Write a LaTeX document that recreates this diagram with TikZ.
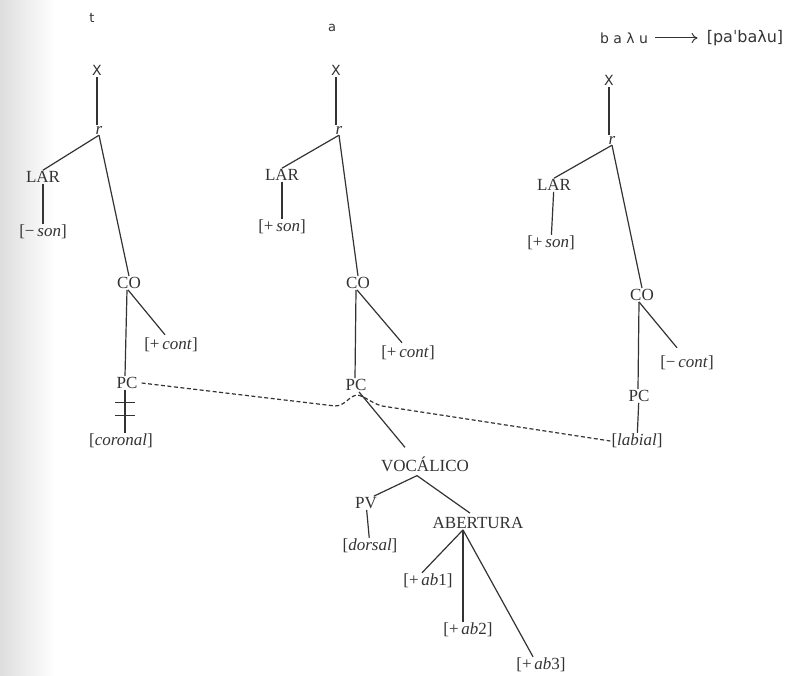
\documentclass[tikz,border=0pt]{standalone}
\usepackage{fontspec}
\setmainfont{Liberation Serif}
\newfontfamily\dvs{DejaVu Sans}
\usetikzlibrary{arrows.meta,calc}
\definecolor{ink}{HTML}{333333}
\begin{document}
\begin{tikzpicture}[x=1pt,y=-1pt,
  lbl/.style={inner sep=1pt, text=ink, font=\fontsize{17}{17}\selectfont},
  sml/.style={inner sep=1pt, text=ink, font=\dvs\fontsize{13}{13}\selectfont},
  xnode/.style={inner sep=1.5pt, text=ink, font=\dvs\fontsize{14}{14}\selectfont},
  br/.style={draw=ink, line width=1.2pt},
  dsh/.style={draw=ink, line width=1.2pt, dash pattern=on 4pt off 2.5pt},
]
\useasboundingbox (0,0) rectangle (789,676);
\fill[left color=black!13, right color=white, draw=none] (0,0) rectangle (55,676);

% ---------- column 1 : t ----------
\node[sml]  (t1)   at (92,18)   {t};
\node[xnode](x1)   at (97,70)   {X};
\node[lbl]  (r1)   at (99,130)  {\textit{r}};
\node[lbl]  (lar1) at (43,177)  {LAR};
\node[lbl]  (son1) at (43,232)  {[−\,\textit{son}]};
\node[lbl]  (co1)  at (129,283) {CO};
\node[lbl]  (cont1) at (171,345) {[+\,\textit{cont}]};
\node[lbl]  (pc1)  at (127,383) {PC};
\node[lbl]  (cor1) at (121,441) {[\textit{coronal}]};

\draw[br] (x1.south) -- (x1.south |- r1.north);
\draw[br] (r1.south) -- (lar1.north);
\draw[br] (r1.south) -- (co1.north);
\draw[br] (lar1) -- (son1);
\draw[br] ([xshift=-2pt]co1.south) -- ([xshift=-2pt]pc1.north);
\draw[br] ([xshift=-1pt]co1.south) -- ([xshift=-6pt,yshift=2pt]cont1.north);
\draw[br] ([xshift=-2pt]pc1.south) -- coordinate[pos=.3] (k1) coordinate[pos=.6] (k2) ([xshift=4pt]cor1.north);
\draw[br] ([xshift=-10pt]k1) -- ([xshift=10pt]k1);
\draw[br] ([xshift=-10pt]k2) -- ([xshift=10pt]k2);

% ---------- column 2 : a ----------
\node[sml]  (a2)   at (332,28)  {a};
\node[xnode](x2)   at (336,70)  {X};
\node[lbl]  (r2)   at (339,130) {\textit{r}};
\node[lbl]  (lar2) at (282,175) {LAR};
\node[lbl]  (son2) at (282,227) {[+\,\textit{son}]};
\node[lbl]  (co2)  at (358,283) {CO};
\node[lbl]  (cont2) at (408,353) {[+\,\textit{cont}]};
\node[lbl]  (pc2)  at (356,385) {PC};
\node[lbl]  (voc)  at (425,464) {VOCÁLICO};
\node[lbl]  (pv)   at (366,503) {PV};
\node[lbl]  (dor)  at (370,546) {[\textit{dorsal}]};
\node[lbl]  (ab)   at (478,523) {ABERTURA};
\node[lbl]  (ab1)  at (428,581) {[+\,\textit{ab}1]};
\node[lbl]  (ab2)  at (468,630) {[+\,\textit{ab}2]};
\node[lbl]  (ab3)  at (541,665) {[+\,\textit{ab}3]};

\draw[br] (x2.south) -- (x2.south |- r2.north);
\draw[br] (r2.south) -- (lar2.north);
\draw[br] (r2.south) -- (co2.north);
\draw[br] (lar2) -- (son2);
\draw[br] ([xshift=-2pt]co2.south) -- ([xshift=-1pt]pc2.north);
\draw[br] ([xshift=-1pt]co2.south) -- ([xshift=-6pt,yshift=2pt]cont2.north);
\draw[br] ([xshift=3pt]pc2.south) -- ([xshift=-20pt,yshift=8pt]voc.north);
\draw[br] ([xshift=-8pt,yshift=-3pt]voc.south) -- ([xshift=8pt]pv.north);
\draw[br] ([xshift=-8pt,yshift=-3pt]voc.south) -- ([xshift=-8pt,yshift=3pt]ab.north);
\draw[br] (pv) -- (dor);
\draw[br] ([xshift=-15pt]ab.south) -- ([xshift=-6pt]ab1.north);
\draw[br] ([xshift=-15pt]ab.south) -- ([xshift=-5pt]ab2.north);
\draw[br] ([xshift=-15pt]ab.south) -- ([xshift=-8pt]ab3.north);

% ---------- column 3 : b ----------
\node[sml, font=\dvs\fontsize{14}{14}\selectfont] (bal) at (624,38) {b a λ u};
\node[sml, font=\dvs\fontsize{16}{16}\selectfont] (pab) at (745,38) {[paˈbaλu]};
\draw[ink, line width=1pt, -{To[length=6pt,width=10pt]}, shorten <=6pt, shorten >=8pt] (bal.east) -- (pab.west);

\node[xnode](x3)   at (609,80)  {X};
\node[lbl]  (r3)   at (612,140) {\textit{r}};
\node[lbl]  (lar3) at (554,185) {LAR};
\node[lbl]  (son3) at (551,243) {[+\,\textit{son}]};
\node[lbl]  (co3)  at (642,295) {CO};
\node[lbl]  (cont3) at (687,363) {[−\,\textit{cont}]};
\node[lbl]  (pc3)  at (639,396) {PC};
\node[lbl]  (lab)  at (637,441) {[\textit{labial}]};

\draw[br] (x3.south) -- (x3.south |- r3.north);
\draw[br] (r3.south) -- (lar3.north);
\draw[br] (r3.south) -- (co3.north);
\draw[br] (lar3) -- (son3);
\draw[br] ([xshift=-3pt]co3.south) -- ([xshift=-1pt]pc3.north);
\draw[br] ([xshift=-3pt]co3.south) -- ([xshift=-10pt,yshift=7pt]cont3.north);
\draw[br] (pc3) -- (lab);

% ---------- dashed association ----------
\coordinate (d1) at (335,406);
\coordinate (bump) at (357,395);
\coordinate (d2) at (382,406);
\draw[dsh] ([xshift=3pt]pc1.east) -- (d1)
  .. controls (345,406) and (349,396) .. (bump)
  .. controls (365,396) and (371,403) .. (d2) -- (lab.west);
\end{tikzpicture}
\end{document}
